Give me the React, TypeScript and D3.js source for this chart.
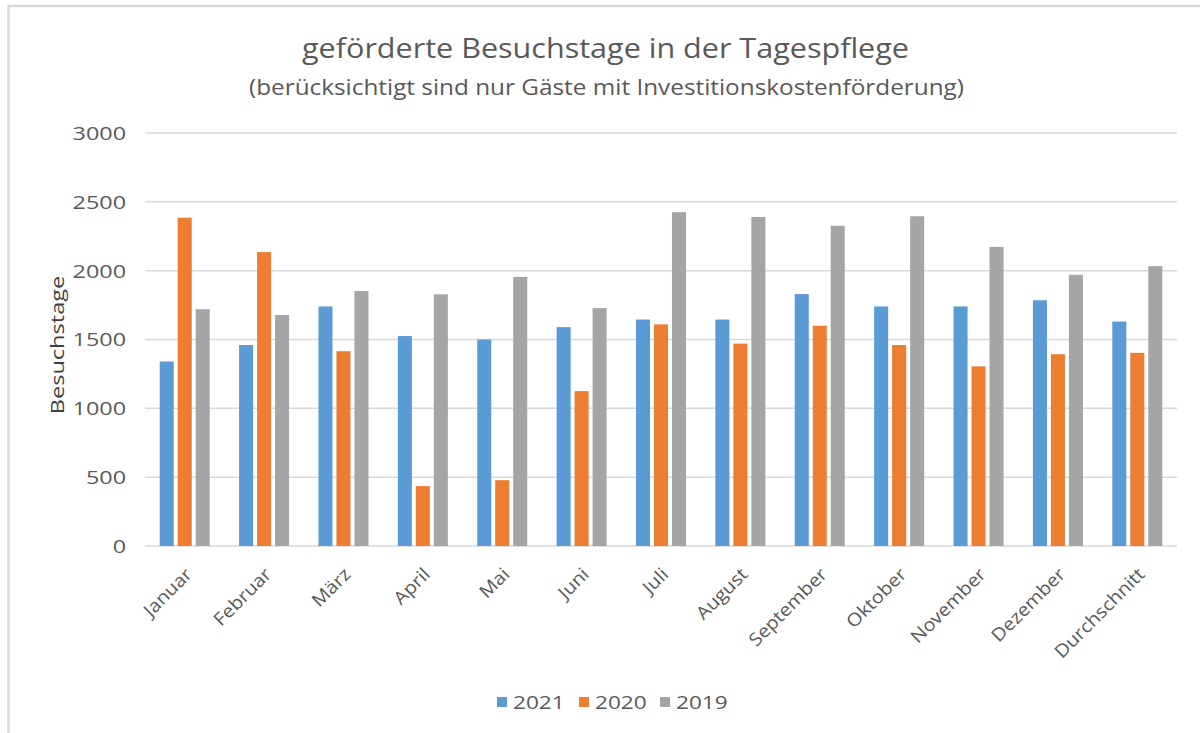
import React, { useEffect } from 'react';
import * as d3 from 'd3';

const categories = ['Januar', 'Februar', 'März', 'April', 'Mai', 'Juni', 'Juli', 'August', 'September', 'Oktober', 'November', 'Dezember', 'Durchschnitt'];
const seriesNames = ['2021', '2020', '2019'];
const values2021 = [1340, 1460, 1740, 1525, 1500, 1590, 1645, 1645, 1830, 1740, 1740, 1785, 1630];
const values2020 = [2385, 2135, 1415, 435, 478, 1125, 1610, 1470, 1600, 1460, 1305, 1393, 1403];
const values2019 = [1720, 1678, 1852, 1828, 1955, 1728, 2425, 2390, 2326, 2395, 2173, 1970, 2033];
const yTicks = [0, 500, 1000, 1500, 2000, 2500, 3000];
const colors = ['#5B9BD5', '#ED7D31', '#A5A5A5'];

const font = '"Open Sans", "Liberation Sans", sans-serif';
const textColor = '#595959';

export default function App() {
  useEffect(() => {
    document.body.style.margin = '0';
  }, []);

  const width = 1200;
  const height = 733;
  const plot = { left: 145, right: 1177, top: 133, bottom: 546 };

  const allSeries = [values2021, values2020, values2019];

  const x0 = d3.scaleBand<string>()
    .domain(categories)
    .range([plot.left, plot.right])
    .paddingInner(0.37)
    .paddingOuter(0.185);

  const x1 = d3.scaleBand<string>()
    .domain(seriesNames)
    .range([0, x0.bandwidth()])
    .paddingInner(0.22);

  const y = d3.scaleLinear().domain([0, 3000]).range([plot.bottom, plot.top]);

  const legendX = [497, 579, 660];

  return (
    <svg width={width} height={height} style={{ display: 'block', background: '#fff' }}>
      {/* chart frame, cut off at right and bottom */}
      <rect x={8.5} y={6} width={1220} height={760} fill="none" stroke="#d9d9d9" strokeWidth={2.5} />

      <text x={302} y={58} textLength={607} lengthAdjust="spacingAndGlyphs" fontFamily={font} fontSize={28} fill={textColor}>
        geförderte Besuchstage in der Tagespflege
      </text>
      <text x={249} y={95} textLength={715} lengthAdjust="spacingAndGlyphs" fontFamily={font} fontSize={22} fill={textColor}>
        (berücksichtigt sind nur Gäste mit Investitionskostenförderung)
      </text>

      {/* grid + y axis */}
      {yTicks.map(t => (
        <g key={t}>
          <line x1={plot.left} x2={plot.right} y1={y(t)} y2={y(t)} stroke="#d9d9d9" strokeWidth={1.5} />
          <text
            transform={`translate(126,${y(t)}) scale(1.23,1)`}
            dy="0.36em"
            textAnchor="end"
            fontFamily={font}
            fontSize={19}
            fill={textColor}
          >
            {t}
          </text>
        </g>
      ))}

      <text
        transform={`translate(64,345) rotate(-90) scale(1.24,1)`}
        textAnchor="middle"
        fontFamily={font}
        fontSize={19}
        fill="#404040"
      >
        Besuchstage
      </text>

      {/* bars */}
      {categories.map((c, i) => (
        <g key={c} transform={`translate(${x0(c)},0)`}>
          {seriesNames.map((s, j) => (
            <rect
              key={s}
              x={x1(s)}
              y={y(allSeries[j][i])}
              width={x1.bandwidth()}
              height={y(0) - y(allSeries[j][i])}
              fill={colors[j]}
            />
          ))}
        </g>
      ))}

      {/* x labels */}
      {categories.map(c => {
        const cx = (x0(c) ?? 0) + x0.bandwidth() / 2;
        return (
          <text
            key={c}
            transform={`translate(${cx + 4},571) rotate(-45) scale(1.1,1)`}
            textAnchor="end"
            dy="0.35em"
            fontFamily={font}
            fontSize={18}
            fill={textColor}
          >
            {c}
          </text>
        );
      })}

      {/* legend */}
      {seriesNames.map((s, j) => (
        <g key={s}>
          <rect x={legendX[j]} y={697} width={10} height={10} fill={colors[j]} />
          <text
            transform={`translate(${legendX[j] + 16},702) scale(1.19,1)`}
            dy="0.36em"
            fontFamily={font}
            fontSize={19}
            fill={textColor}
          >
            {s}
          </text>
        </g>
      ))}
    </svg>
  );
}
